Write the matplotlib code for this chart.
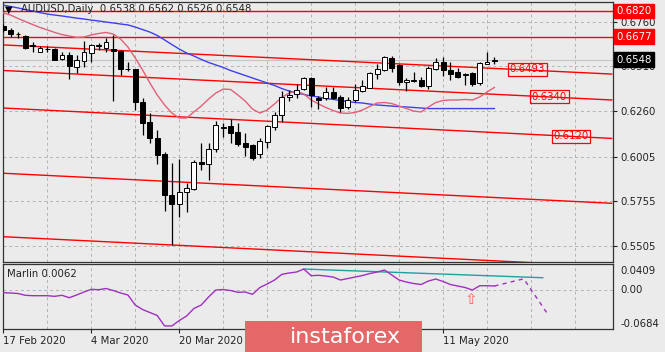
import numpy as np
import matplotlib.pyplot as plt
import matplotlib.transforms as mtransforms
from matplotlib.patches import Rectangle

# AUDUSD daily candles, 17 Feb 2020 .. 20 May 2020 (one per trading day)
opens = [0.6735, 0.6715, 0.6692, 0.6682, 0.6628, 0.6592, 0.6605, 0.6607, 0.6550, 0.6574,
         0.6508, 0.6540, 0.6583, 0.6624, 0.6614, 0.6607, 0.6596, 0.6497, 0.6494, 0.6309,
         0.6197, 0.6108, 0.6020, 0.5790, 0.5738, 0.5809, 0.5823, 0.5977, 0.5964, 0.6046,
         0.6164, 0.6176, 0.6141, 0.6080, 0.6070, 0.6020, 0.6088, 0.6172, 0.6238, 0.6337,
         0.6355, 0.6383, 0.6447, 0.6331, 0.6331, 0.6368, 0.6340, 0.6284, 0.6322, 0.6373,
         0.6391, 0.6466, 0.6490, 0.6555, 0.6518, 0.6424, 0.6430, 0.6434, 0.6402, 0.6494,
         0.6536, 0.6490, 0.6477, 0.6464, 0.6471, 0.6415, 0.6525, 0.6538]
highs = [0.6745, 0.6725, 0.6704, 0.6686, 0.6646, 0.6626, 0.6622, 0.6614, 0.6592, 0.6589,
         0.6574, 0.6652, 0.6634, 0.6640, 0.6667, 0.6686, 0.6600, 0.6536, 0.6498, 0.6333,
         0.6249, 0.6154, 0.6031, 0.5970, 0.5992, 0.5859, 0.5986, 0.6081, 0.6081, 0.6204,
         0.6193, 0.6216, 0.6193, 0.6137, 0.6078, 0.6109, 0.6182, 0.6256, 0.6372, 0.6378,
         0.6410, 0.6452, 0.6452, 0.6344, 0.6396, 0.6396, 0.6350, 0.6340, 0.6410, 0.6434,
         0.6477, 0.6522, 0.6570, 0.6570, 0.6522, 0.6443, 0.6480, 0.6452, 0.6514, 0.6555,
         0.6564, 0.6536, 0.6499, 0.6471, 0.6480, 0.6536, 0.6589, 0.6562]
lows = [0.6705, 0.6676, 0.6670, 0.6609, 0.6590, 0.6590, 0.6589, 0.6543, 0.6548, 0.6439,
        0.6473, 0.6508, 0.6536, 0.6602, 0.6589, 0.6316, 0.6462, 0.6484, 0.6266, 0.6126,
        0.6081, 0.5964, 0.5701, 0.5511, 0.5667, 0.5697, 0.5818, 0.5930, 0.5874, 0.6033,
        0.6117, 0.6081, 0.6066, 0.6010, 0.5986, 0.5997, 0.6053, 0.6154, 0.6197, 0.6316,
        0.6331, 0.6376, 0.6284, 0.6272, 0.6322, 0.6330, 0.6253, 0.6272, 0.6309, 0.6365,
        0.6387, 0.6439, 0.6484, 0.6480, 0.6406, 0.6372, 0.6424, 0.6396, 0.6384, 0.6490,
        0.6458, 0.6434, 0.6443, 0.6406, 0.6402, 0.6406, 0.6522, 0.6526]
closes = [0.6715, 0.6691, 0.6689, 0.6611, 0.6624, 0.6615, 0.6608, 0.6546, 0.6574, 0.6514,
          0.6544, 0.6589, 0.6630, 0.6628, 0.6648, 0.6596, 0.6495, 0.6494, 0.6309, 0.6191,
          0.6108, 0.6014, 0.5790, 0.5738, 0.5809, 0.5831, 0.5977, 0.5966, 0.6046, 0.6182,
          0.6173, 0.6136, 0.6074, 0.6061, 0.5996, 0.6094, 0.6176, 0.6238, 0.6340, 0.6350,
          0.6378, 0.6447, 0.6350, 0.6322, 0.6368, 0.6335, 0.6279, 0.6322, 0.6378, 0.6402,
          0.6471, 0.6495, 0.6564, 0.6499, 0.6421, 0.6432, 0.6434, 0.6402, 0.6499, 0.6536,
          0.6490, 0.6466, 0.6452, 0.6467, 0.6410, 0.6527, 0.6536, 0.6548]

# moving averages
ma_slow = [0.6853, 0.6845, 0.6837, 0.6828, 0.6820, 0.6811, 0.6803, 0.6797, 0.6792, 0.6786,
           0.6780, 0.6775, 0.6769, 0.6764, 0.6758, 0.6753, 0.6747, 0.6742, 0.6730, 0.6716,
           0.6702, 0.6683, 0.6658, 0.6632, 0.6607, 0.6585, 0.6568, 0.6549, 0.6532, 0.6518,
           0.6504, 0.6487, 0.6473, 0.6459, 0.6445, 0.6431, 0.6417, 0.6403, 0.6386, 0.6372,
           0.6361, 0.6353, 0.6344, 0.6339, 0.6330, 0.6325, 0.6319, 0.6313, 0.6308, 0.6305,
           0.6299, 0.6294, 0.6291, 0.6288, 0.6285, 0.6283, 0.6280, 0.6277, 0.6274, 0.6274,
           0.6274, 0.6274, 0.6274, 0.6274, 0.6274, 0.6274, 0.6274, 0.6274]
ma_fast = [0.6809, 0.6797, 0.6778, 0.6761, 0.6744, 0.6728, 0.6714, 0.6700, 0.6688, 0.6680,
           0.6672, 0.6674, 0.6686, 0.6694, 0.6700, 0.6691, 0.6663, 0.6618, 0.6557, 0.6490,
           0.6417, 0.6350, 0.6294, 0.6249, 0.6221, 0.6221, 0.6255, 0.6288, 0.6327, 0.6361,
           0.6383, 0.6381, 0.6350, 0.6316, 0.6271, 0.6249, 0.6266, 0.6300, 0.6336, 0.6361,
           0.6372, 0.6355, 0.6322, 0.6300, 0.6280, 0.6263, 0.6249, 0.6247, 0.6252, 0.6266,
           0.6286, 0.6305, 0.6308, 0.6302, 0.6288, 0.6274, 0.6260, 0.6255, 0.6283, 0.6308,
           0.6319, 0.6322, 0.6322, 0.6325, 0.6322, 0.6339, 0.6367, 0.6392]

# Marlin oscillator
marlin = [-0.0054, -0.0059, -0.0068, -0.0099, -0.0106, -0.0106, -0.0106, -0.0117, -0.0099, -0.0141,
          -0.0094, -0.0042, 0.0005, -0.0002, 0.0019, -0.0016, -0.0059, -0.0094, -0.0268, -0.0346,
          -0.0398, -0.0450, -0.0631, -0.0631, -0.0537, -0.0459, -0.0328, -0.0268, -0.0129, -0.0007,
          0.0001, -0.0016, -0.0047, -0.0042, -0.0082, 0.0036, 0.0097, 0.0166, 0.0265, 0.0288,
          0.0305, 0.0357, 0.0241, 0.0248, 0.0235, 0.0218, 0.0166, 0.0192, 0.0218, 0.0244,
          0.0279, 0.0305, 0.0340, 0.0253, 0.0166, 0.0131, 0.0105, 0.0088, 0.0149, 0.0183,
          0.0140, 0.0088, 0.0062, 0.0036, -0.0007, 0.0067, 0.0067, 0.0062]
marlin_fc_bar = [67, 71, 74.3]
marlin_fc = [0.0062, 0.0187, -0.0430]
marlin_trend_bar = [41, 73.6]
marlin_trend = [0.0357, 0.0206]

# horizontal levels and descending channel (values at bar 0 and bar 83)
h_levels = [0.6820, 0.6677]
chan_start = [0.6630, 0.6487, 0.6277, 0.5912, 0.5557]
chan_end = [0.6467, 0.6322, 0.6107, 0.5744, 0.5390]
chan_bars = [0, 83]
tag_values = [0.6493, 0.6340, 0.6120]
tag_bars = [69.1, 72.1, 75.0]

price_ticks = [0.6760, 0.6510, 0.6260, 0.6005, 0.5755, 0.5505]
# labels for 7 Apr and 23 Apr sit under the watermark and are not visible
date_bars = [0, 12, 24, 60]
date_labels = ["17 Feb 2020", "4 Mar 2020", "20 Mar 2020", "11 May 2020"]

BG = '#ebebeb'
W, H = 665, 352


def box(x0, y0, x1, y1):
    return [x0 / W, 1 - y1 / H, (x1 - x0) / W, (y1 - y0) / H]


fig = plt.figure(figsize=(W / 100, H / 100), dpi=100, facecolor=BG)
ax = fig.add_axes(box(2.5, 2, 613.3, 262.3), facecolor=BG)
ax2 = fig.add_axes(box(2.5, 264.3, 613.3, 329), facecolor=BG, sharex=ax)

x = np.arange(len(opens))
o = np.array(opens); c = np.array(closes)
up = c >= o

# grid
grid_kw = dict(color='#b4b4b4', linestyle=(0, (3, 3)), linewidth=0.7)
for a in (ax, ax2):
    for b in range(6, 84, 6):
        a.axvline(b, zorder=0, **grid_kw)
for p in price_ticks:
    ax.axhline(p, zorder=0, **grid_kw)
ax2.axhline(0, zorder=0, **grid_kw)

# bid line
ax.axhline(closes[-1], color='#c4c4c4', lw=0.8, zorder=1)

# channel and levels
for lv in h_levels:
    ax.axhline(lv, color='#ff0000', lw=1, zorder=2)
for s, e in zip(chan_start, chan_end):
    ax.plot(chan_bars, [s, e], color='#ff0000', lw=1, zorder=2)

# MAs
ax.plot(x, ma_slow, color='#3f3ff2', lw=1, zorder=3)
ax.plot(x, ma_fast, color='#e2607a', lw=1, zorder=3)

# candles
ax.vlines(x, lows, highs, color='black', lw=0.9, zorder=4)
body_h = np.maximum(np.abs(c - o), 0.00012)
ax.bar(x, body_h, bottom=np.minimum(o, c), width=0.66,
       color=np.where(up, 'white', 'black'), edgecolor='black', linewidth=0.7, zorder=5)

# tags on the chart
for v, b in zip(tag_values, tag_bars):
    ax.text(b, v, f"{v:.4f}", color='#ff0000', fontsize=7.3, va='center', ha='left', zorder=6,
            bbox=dict(boxstyle='square,pad=0.15', fc='none', ec='#ff0000', lw=0.9))

ax.set_xlim(-0.11, 83.22)
ax.set_ylim(0.54138, 0.68702)
ax2.set_ylim(-0.0684, 0.0439)

# right price scale
ax.yaxis.tick_right()
ax.set_yticks(price_ticks)
ax.set_yticklabels([f"{p:.4f}" for p in price_ticks])
ax.tick_params(axis='y', length=3, width=0.8, labelsize=7.3, pad=2, colors='#222222')
ax.tick_params(axis='x', length=0, labelbottom=False)
tr = mtransforms.blended_transform_factory(ax.transAxes, ax.transData)
for lv, fc in ((0.6820, '#ff0000'), (0.6677, '#ff0000'), (closes[-1], 'black')):
    ax.text(1.0045, lv, f"{lv:.4f}", transform=tr, color='white', fontsize=7.3, va='center',
            ha='left', zorder=10, clip_on=False,
            bbox=dict(boxstyle='square,pad=0.22', fc=fc, ec=fc))

# title
ax.text(0.004, 0.972, "\u25bc", transform=ax.transAxes, fontsize=7, va='center', ha='left')
ax.text(0.031, 0.972, "AUDUSD,Daily  0.6538 0.6562 0.6526 0.6548", transform=ax.transAxes,
        fontsize=7.3, va='center', ha='left', color='#222222')

# indicator panel
ax2.plot(x, marlin, color='#a030c0', lw=1, zorder=3)
ax2.plot(marlin_fc_bar, marlin_fc, color='#a030c0', lw=1, linestyle=(0, (3, 3)), zorder=3)
ax2.plot(marlin_trend_bar, marlin_trend, color='#20a0a0', lw=1, zorder=2)
ax2.text(63.8, -0.004, "\u21e7", color='#ff6060', fontsize=11, ha='center', va='top')
ax2.text(0.008, 0.85, "Marlin 0.0062", transform=ax2.transAxes, fontsize=7.3, va='center',
         ha='left', color='#222222')
ax2.set_yticks([])
tr2 = mtransforms.blended_transform_factory(ax2.transAxes, ax2.transData)
for v, txt, va in ((0.0409, "0.0409", 'top'), (0.0, "0.00", 'center'), (-0.0684, "-0.0684", 'bottom')):
    ax2.text(1.012, v, txt, transform=tr2, fontsize=7.3, va=va, ha='left', color='#222222',
             clip_on=False)

ax2.set_xticks(date_bars)
ax2.set_xticklabels(date_labels)
for lab in ax2.get_xticklabels():
    lab.set_horizontalalignment('left')
ax2.tick_params(axis='x', length=3, width=0.8, labelsize=7.3, pad=2, colors='#222222')

for a in (ax, ax2):
    for s in a.spines.values():
        s.set_color('#333333')
        s.set_linewidth(0.9)

# watermark
fig.add_artist(Rectangle((245 / W, 0), 177 / W, 31 / H, transform=fig.transFigure,
                         facecolor='#e46868', edgecolor='none', zorder=20))
fig.text(290 / W, 15 / H, "instaforex", color='white', fontsize=16, va='center', ha='left',
         zorder=21)

fig.savefig('out.png', dpi=100, facecolor=BG)
